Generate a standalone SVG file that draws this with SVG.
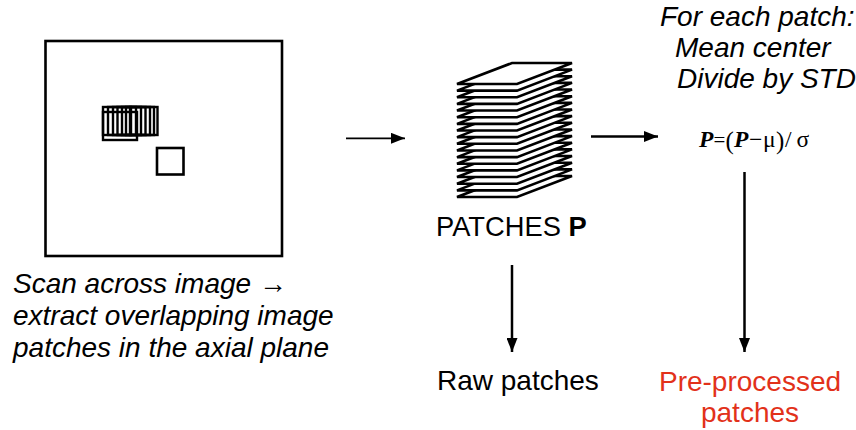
<svg xmlns="http://www.w3.org/2000/svg" width="856" height="430" viewBox="0 0 856 430">
  <style>
    .sans { font-family: "Liberation Sans", Arial, sans-serif; font-size: 28px; fill: #000; }
    .ital { font-style: italic; }
    .red { fill: #e2311a; }
    .math { font-family: "Liberation Serif", "Times New Roman", serif; font-size: 23.5px; fill: #000; }
    .frame { fill: none; stroke: #000; stroke-width: 2.6; }
    .patch { fill: #fff; stroke: #000; stroke-width: 2.6; stroke-linejoin: miter; }
    .win { fill: none; stroke: #000; stroke-width: 2.4; }
    .conn { stroke: #000; fill: none; }
  </style>
  <defs>
    <marker id="head" markerUnits="userSpaceOnUse" markerWidth="15" markerHeight="11" refX="14" refY="5.5" orient="auto" viewBox="0 0 15 11">
      <path d="M0,0 L14,5.5 L0,11 Z" fill="#000"/>
    </marker>
    <polygon id="sheet" class="patch" points="457,84 517,84 572,63 512,63"/>
  </defs>

  <rect width="856" height="430" fill="#fff"/>

  <!-- Image plane with scan windows -->
  <g id="image-plane">
    <rect class="frame" x="45.5" y="41" width="236.5" height="215"/>
    <g id="scan-windows">
      <rect class="win" x="103" y="112" width="34" height="28"/>
      <rect class="win" x="103" y="107" width="28" height="28"/>
      <rect class="win" x="108" y="107" width="28" height="28"/>
      <rect class="win" x="113" y="107" width="28" height="28"/>
      <rect class="win" x="117.5" y="107" width="28" height="28"/>
      <rect class="win" x="122" y="107" width="28" height="28"/>
      <rect class="win" x="126" y="107" width="28" height="28"/>
      <rect class="win" x="130" y="107" width="27.5" height="28"/>
    </g>
    <rect class="frame" x="157" y="148" width="26.5" height="26.5"/>
  </g>

  <g id="scan-caption" class="sans ital">
    <text x="13" y="293">Scan across image →</text>
    <text x="13" y="325">extract overlapping image</text>
    <text x="13" y="357">patches in the axial plane</text>
  </g>

  <!-- Stack of extracted patches, drawn bottom to top -->
  <g id="patch-stack">
    <use href="#sheet" y="113"/>
    <use href="#sheet" y="106.35"/>
    <use href="#sheet" y="99.7"/>
    <use href="#sheet" y="93.05"/>
    <use href="#sheet" y="86.4"/>
    <use href="#sheet" y="79.75"/>
    <use href="#sheet" y="73.1"/>
    <use href="#sheet" y="66.45"/>
    <use href="#sheet" y="59.8"/>
    <use href="#sheet" y="53.15"/>
    <use href="#sheet" y="46.5"/>
    <use href="#sheet" y="39.85"/>
    <use href="#sheet" y="33.2"/>
    <use href="#sheet" y="26.55"/>
    <use href="#sheet" y="19.9"/>
    <use href="#sheet" y="13.25"/>
    <use href="#sheet" y="6.6"/>
    <use href="#sheet" y="0"/>
    <text class="sans" x="436" y="236" style="font-size:27.3px">PATCHES <tspan font-weight="bold">P</tspan></text>
  </g>

  <g id="normalize-steps" class="sans ital">
    <text x="660" y="26">For each patch:</text>
    <text x="675" y="57">Mean center</text>
    <text x="677" y="88">Divide by STD</text>
  </g>

  <g id="formula" class="math">
    <text y="147"><tspan x="699" font-weight="bold" font-style="italic">P</tspan><tspan x="713.5" font-size="21">=</tspan><tspan x="725.5" y="148.5" font-size="25">(</tspan><tspan x="734" y="147" font-weight="bold" font-style="italic">P</tspan><tspan x="749">−</tspan><tspan x="763">μ</tspan><tspan x="776" y="148.5" font-size="25">)</tspan><tspan x="785" y="147">/</tspan><tspan x="796.5">σ</tspan></text>
  </g>

  <g id="raw-patches">
    <text class="sans" x="437" y="390">Raw patches</text>
  </g>

  <g id="preprocessed-patches" class="sans red" text-anchor="middle">
    <text x="750" y="391">Pre-processed</text>
    <text x="750" y="422">patches</text>
  </g>

  <g id="connectors" class="conn">
    <line x1="346" y1="138.3" x2="405" y2="138.3" stroke-width="1.8" marker-end="url(#head)"/>
    <line x1="591" y1="136.5" x2="658" y2="136.5" stroke-width="2.4" marker-end="url(#head)"/>
    <line x1="512" y1="265" x2="512" y2="352" stroke-width="2.5" marker-end="url(#head)"/>
    <line x1="744.5" y1="172" x2="744.5" y2="352" stroke-width="2.5" marker-end="url(#head)"/>
  </g>
</svg>
